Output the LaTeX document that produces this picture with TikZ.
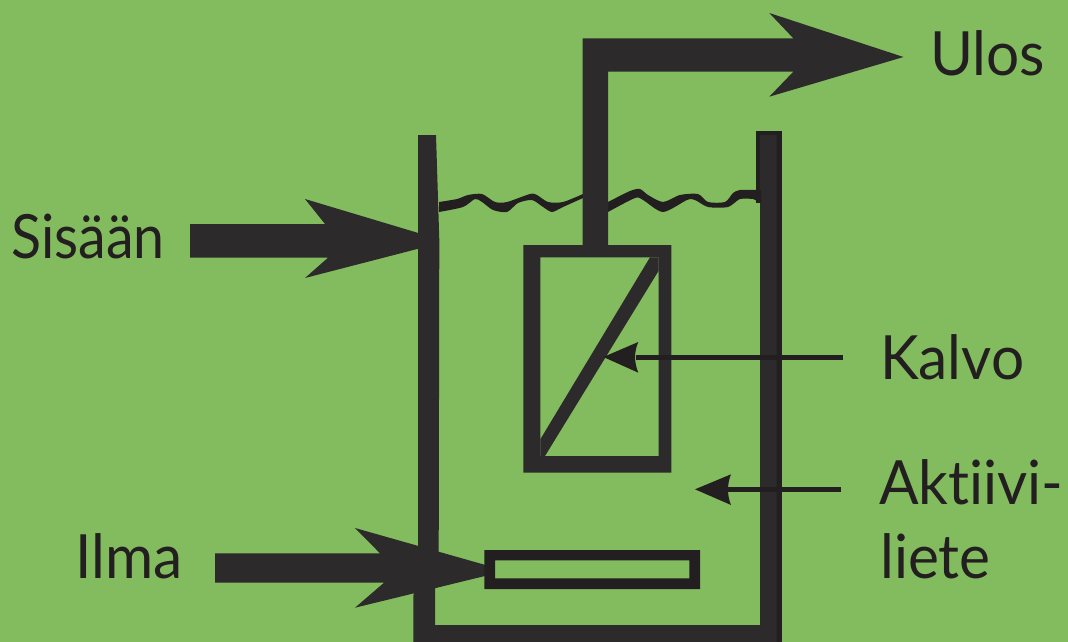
\documentclass[tikz,border=0pt]{standalone}
\usepackage{fontspec}
\setmainfont{Lato}[FakeStretch=0.96,Ligatures=NoCommon]
\newfontfamily\narrowfont{Lato}[FakeStretch=0.91,Ligatures=NoCommon]
\definecolor{bg}{HTML}{83BC5E}
\definecolor{ink}{HTML}{2D2A2C}
\definecolor{inkdark}{HTML}{231F20}
\tikzset{
 lab/.style={anchor=base west,inner sep=0pt,text=inkdark,font=\fontsize{61}{64}\selectfont},
 pointer/.style={draw=inkdark,line width=5pt}
}
\begin{document}
\begin{tikzpicture}[x=1pt,y=-1pt]
\useasboundingbox (0,0) rectangle (1068,642);
\fill[bg] (0,0) rectangle (1068,642);
% tank
\fill[inkdark] (755.5,130.7) rectangle (781.7,203);
\fill[inkdark] (776,200) rectangle (781.7,642);
\fill[ink] (418,135) -- (436,135) -- (439.3,240) -- (438.7,553) -- (435,587) -- (435,625) -- (760,625) -- (760,135) -- (776.5,135) -- (776.5,642) -- (413.3,642) -- (413.3,597) -- (418,560) -- cycle;
% water surface
\fill[inkdark] plot[smooth,tension=.45] coordinates {(439,202) (457,199) (468,195) (482,194) (495,202) (507,202) (530,194) (537,195) (548,202) (563,202) (583,194)}
 -- plot[smooth,tension=.45] coordinates {(583,198) (563,207) (552,212) (543,207) (532,200) (518,203) (507,212) (493,210) (482,202) (475,199) (463,207) (439,212)} -- cycle;
\fill[inkdark] plot[smooth,tension=.45] coordinates {(608,202) (630,191) (640,189) (648,195) (663,202) (680,195) (698,194) (708,202) (725,202) (733,193) (740,190) (756,190)}
 -- (761,190) -- (761,203) -- plot[smooth,tension=.45] coordinates {(753,199) (740,199) (728,207) (708,207) (695,200) (687,200) (663,212) (643,200) (635,198) (608,212)} -- cycle;
% outlet pipe and arrow
\fill[ink] (582.7,250) -- (582.7,38.3) -- (793.3,38.3) -- (769.3,13) -- (903.5,57) -- (769.3,96.7) -- (793.3,71.7) -- (608,71.7) -- (608,250) -- cycle;
% membrane module
\fill[ink,even odd rule] (523.3,245) rectangle (671.3,472.7) (540.3,257.3) rectangle (658.7,456);
\fill[ink] (650,257.3) -- (540.3,439.3) -- (540.3,456) -- (545,456) -- (658.7,270.7) -- (658.7,257.3) -- cycle;
% aeration diffuser
\fill[ink] (215,553.3) -- (380,553.3) -- (355,528) -- (489,566) -- (489,575) -- (355,607.7) -- (384,582.7) -- (215,582.7) -- cycle;
\fill[inkdark,even odd rule] (484.3,550) rectangle (700,589) (495,560.3) rectangle (689.3,578.3);
% inlet arrow
\fill[ink] (190,224) -- (325,224) -- (305,199) -- (425,235) -- (425,247) -- (305,278) -- (328,257.7) -- (190,257.7) -- cycle;
% pointers
\coordinate (kt) at (843,357);
\coordinate (kh) at (636,357);
\coordinate (at) at (840.7,489.3);
\coordinate (ah) at (728,489.3);
\draw[pointer] (kt) -- (kh);
\fill[inkdark] (603.3,357) -- (638.3,342) .. controls (634,352) and (634,362) .. (638.3,372.7) -- cycle;
\draw[pointer] (at) -- (ah);
\fill[inkdark] (695,489.3) -- (731,474.3) .. controls (727,484) and (727,495) .. (731,505) -- cycle;
% labels
\node[lab] (ulos) at (930,76) {Ulos};
\node[lab,font=\narrowfont\fontsize{61}{64}\selectfont] (sis) at (11,258) {Sisään};
\node[lab] (kalvo) at (880,379) {Kalvo};
\node[lab] (akt) at (879,504) {Aktiivi-};
\node[lab] (liete) at (880,578) {liete};
\node[lab] (ilma) at (75,578) {Ilma};
\end{tikzpicture}
\end{document}
